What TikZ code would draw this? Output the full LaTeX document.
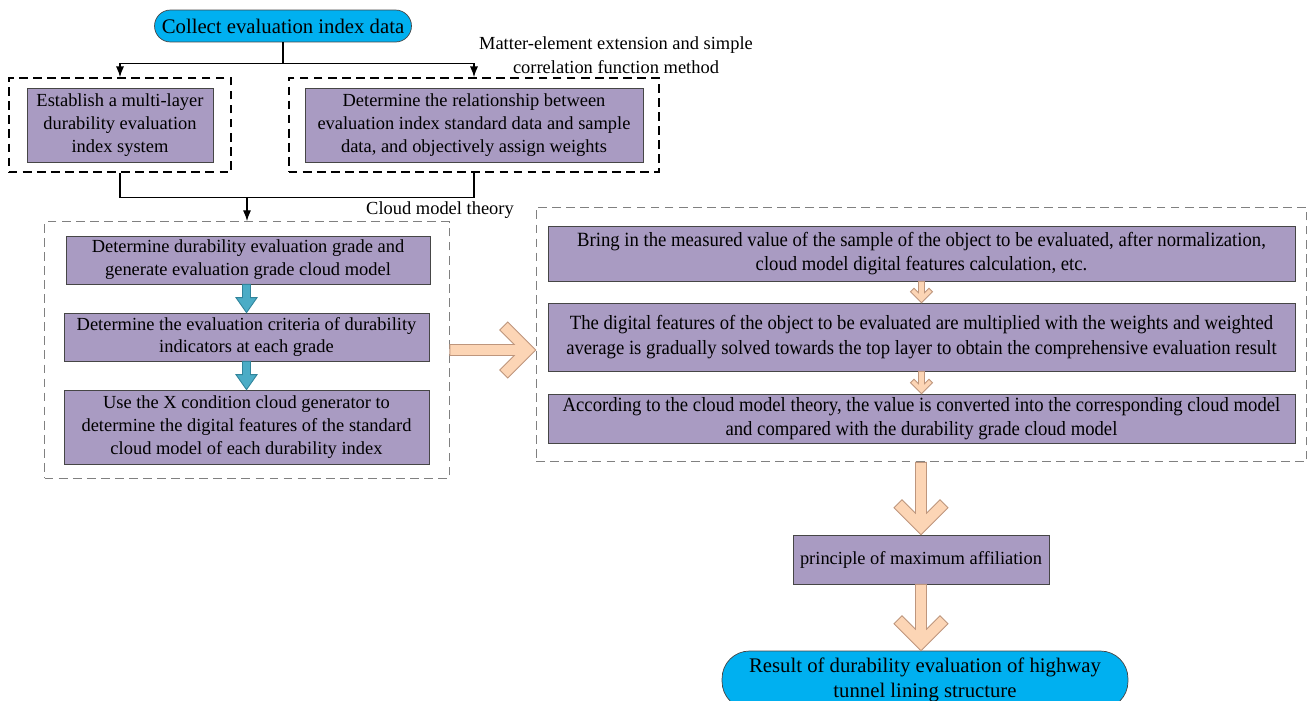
\documentclass[tikz,border=0pt]{standalone}
\usepackage{fontspec}
\setmainfont{Liberation Serif}
\newfontfamily\narrowserif[FakeStretch=0.925]{Liberation Serif}
\usetikzlibrary{positioning}
\usetikzlibrary{calc}
\usetikzlibrary{fit, arrows.meta}
\definecolor{boxpurple}{RGB}{169,155,194}
\definecolor{boxline}{RGB}{70,70,70}
\definecolor{termcyan}{RGB}{0,176,240}
\definecolor{tealfill}{RGB}{75,172,198}
\definecolor{tealline}{RGB}{49,132,155}
\definecolor{peachfill}{RGB}{252,213,181}
\definecolor{peachline}{RGB}{190,150,125}
\definecolor{framegray}{RGB}{128,128,128}
\tikzset{
	x=0.02cm, y=-0.02cm,
	every node/.style={align=center},
	proc/.style={draw=boxline, fill=boxpurple, inner sep=1pt, font=\fontsize{10.5}{13}\selectfont},
	wide/.style={proc, minimum width=14.94cm, font=\narrowserif\fontsize{11.5}{14}\selectfont},
	term/.style={draw=boxline, fill=termcyan, inner sep=1pt, font=\fontsize{11.8}{14}\selectfont},
	note/.style={font=\fontsize{10.5}{13.5}\selectfont},
	group/.style={draw=black, line width=1.1pt, dash pattern=on 5pt off 3pt, inner sep=0pt},
	subgroup/.style={draw=framegray, line width=.6pt, dash pattern=on 5pt off 3pt, inner sep=0pt},
	flow/.style={-Latex, line width=.7pt},
	chev/.style={fill=peachfill, draw=peachline, line width=.5pt},
	block/.style={fill=tealfill, draw=tealline, line width=.5pt}
}
% peach arrow with a chevron head: from, to, half shaft, head, arm
\newcommand{\downchev}[5]{%
	\filldraw[chev] (#2) -- ++(#4,-#4) -- ++(-#5,-#5)
		-- ($(#2)+(#3,{-(2*#5+#3)})$) -- ($(#2 |- #1)+(#3,0)$)
		-- ($(#2 |- #1)+(-#3,0)$) -- ($(#2)+(-#3,{-(2*#5+#3)})$)
		-- ($(#2)+({-(#4-#5)},{-(#4+#5)})$) -- ($(#2)+(-#4,-#4)$) -- cycle;
}
\newcommand{\rightchev}[5]{%
	\filldraw[chev] (#2) -- ++(-#4,-#4) -- ++(-#5,#5)
		-- ($(#2)+({-(2*#5+#3)},-#3)$) -- ($(#1 |- #2)+(0,-#3)$)
		-- ($(#1 |- #2)+(0,#3)$) -- ($(#2)+({-(2*#5+#3)},#3)$)
		-- ($(#2)+({-(#4+#5)},{#4-#5})$) -- ($(#2)+(-#4,#4)$) -- cycle;
}
% teal block arrow: from, to, half shaft, half head, head length
\newcommand{\downblock}[5]{%
	\filldraw[block] (#2) -- ($(#2)+(#4,-#5)$) -- ($(#2)+(#3,-#5)$)
		-- ($(#2 |- #1)+(#3,0)$) -- ($(#2 |- #1)+(-#3,0)$)
		-- ($(#2)+(-#3,-#5)$) -- ($(#2)+(-#4,-#5)$) -- cycle;
}

\begin{document}
\begin{tikzpicture}
	\useasboundingbox (0,0) rectangle (1307,700);
	
	% Top
	\node[term, minimum width=5.14cm, minimum height=0.64cm, rounded corners=0.32cm] (collect) at (283,26) {Collect evaluation index data};
	\node[note] (matter) at (616,55) {Matter-element extension and simple\\correlation function method};
	
	\node[proc, minimum width=3.72cm, minimum height=1.48cm] (estab) at (120,125) {Establish a multi-layer\\durability evaluation\\index system};
	\node[proc, minimum width=6.76cm, minimum height=1.48cm] (relat) at (474,125) {Determine the relationship between\\evaluation index standard data and sample\\data, and objectively assign weights};
	\node[group, fit=(estab), inner xsep=0.36cm, inner ysep=0.19cm] (frame1) {};
	\node[group, fit=(relat), inner xsep=0.32cm, inner ysep=0.19cm] (frame2) {};
	
	\draw[line width=.7pt] (collect.south) -- ++(0,21) coordinate (split);
	\draw[flow] (split) -| (frame1.north);
	\draw[flow] (split) -| (frame2.north);
	
	% Cloud model part
	\node[note] (cloud) at (440,210) {Cloud model theory};
	\node[proc, minimum width=7.28cm, minimum height=0.96cm] (grade) at (248,260) {Determine durability evaluation grade and\\generate evaluation grade cloud model};
	\node[proc, minimum width=7.3cm, minimum height=0.96cm] (crit) at (246.5,337) {Determine the evaluation criteria of durability\\indicators at each grade};
	\node[proc, minimum width=7.3cm, minimum height=1.48cm] (gen) at (246.5,427) {Use the X condition cloud generator to\\determine the digital features of the standard\\cloud model of each durability index};
	\node[subgroup, fit=(grade)(crit)(gen), inner xsep=0.38cm, inner ysep=0.28cm] (frame3) {};
	
	\draw[line width=.7pt] (frame1.south) -- ++(0,25) coordinate (merge) -| (frame2.south);
	\draw[flow] (merge -| frame3.north) -- (frame3.north);
	
	\downblock{grade.south}{crit.north}{4}{10.5}{15}
	\downblock{crit.south}{gen.north}{4}{10.5}{15}
	
	% Evaluation part
	\node[wide, minimum height=1.1cm] (bring) at (921.5,253.5) {Bring in the measured value of the sample of the object to be evaluated, after normalization,\\cloud model digital features calculation, etc.};
	\node[wide, minimum height=1.36cm] (digit) at (921.5,337) {The digital features of the object to be evaluated are multiplied with the weights and weighted\\average is gradually solved towards the top layer to obtain the comprehensive evaluation result};
	\node[wide, minimum height=0.98cm] (accord) at (921.5,418.5) {According to the cloud model theory, the value is converted into the corresponding cloud model\\and compared with the durability grade cloud model};
	\node[subgroup, fit=(bring)(digit)(accord), inner xsep=0.23cm, inner ysep=0.37cm] (frame4) {};
	
	\downchev{bring.south}{digit.north}{3}{11}{3.5}
	\downchev{digit.south}{accord.north}{3}{11}{3.5}
	\rightchev{frame3.east}{frame4.west |- frame3.east}{5.5}{28}{8}
	
	% Result
	\node[proc, minimum width=5.12cm, minimum height=0.98cm] (maxaff) at (921,559.5) {principle of maximum affiliation};
	\node[term, minimum width=8.12cm, minimum height=1.16cm, rounded corners=0.55cm] (result) at (925,680) {Result of durability evaluation of highway\\tunnel lining structure};
	
	\downchev{frame4.south}{maxaff.north}{5.5}{27}{8}
	\downchev{maxaff.south}{maxaff.south |- result.north}{5.5}{27}{8}
	
\end{tikzpicture}
\end{document}
